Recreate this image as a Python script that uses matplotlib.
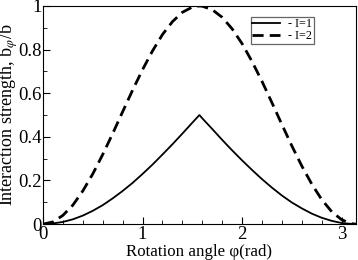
import matplotlib
matplotlib.use("Agg")
import matplotlib.pyplot as plt
from matplotlib.ticker import MultipleLocator

plt.rcParams['font.family'] = ['Liberation Serif', 'DejaVu Serif']
plt.rcParams['mathtext.fontset'] = 'stix'

# rotation angle (rad)
phi = [0.0, 0.1, 0.2, 0.3, 0.4, 0.5, 0.6, 0.7, 0.8, 0.9, 1.0, 1.1, 1.2, 1.3, 1.4, 1.5, 1.571,
       1.6, 1.7, 1.8, 1.9, 2.0, 2.1, 2.2, 2.3, 2.4, 2.5, 2.6, 2.7, 2.8, 2.9, 3.0, 3.1, 3.142]
# I=1 (solid)
b_i1 = [0.0, 0.003, 0.010, 0.022, 0.039, 0.061, 0.087, 0.118, 0.152, 0.189, 0.230, 0.273, 0.319,
        0.366, 0.415, 0.465, 0.500, 0.485, 0.436, 0.386, 0.338, 0.292, 0.248, 0.206, 0.167,
        0.131, 0.099, 0.072, 0.048, 0.029, 0.015, 0.005, 0.001, 0.0]
# I=2 (dashed)
b_i2 = [0.0, 0.010, 0.040, 0.087, 0.152, 0.230, 0.319, 0.415, 0.515, 0.614, 0.708, 0.794, 0.869,
        0.928, 0.971, 0.995, 1.000, 0.999, 0.983, 0.948, 0.895, 0.827, 0.745, 0.654, 0.556,
        0.456, 0.358, 0.266, 0.183, 0.112, 0.057, 0.020, 0.002, 0.0]

fig = plt.figure(figsize=(3.58, 2.6), dpi=100)
ax = fig.add_axes([0.12, 0.138, 0.874, 0.839])

ax.plot(phi, b_i1, color='black', lw=1.3, label='- I=1')
ax.plot(phi, b_i2, color='black', lw=2.0, dashes=(4, 2.2), label='- I=2')

ax.set_xlim(0, 3.142)
ax.set_ylim(0, 1)
ax.xaxis.set_major_locator(MultipleLocator(1))
ax.xaxis.set_minor_locator(MultipleLocator(0.2))
ax.yaxis.set_major_locator(MultipleLocator(0.2))
ax.yaxis.set_minor_locator(MultipleLocator(0.1))
ax.yaxis.set_major_formatter(plt.FuncFormatter(lambda v, p: '%g' % round(v, 2)))
ax.tick_params(which='both', direction='in', top=False, right=False, labelsize=13.5, pad=1)
ax.tick_params(which='major', length=5)
ax.tick_params(which='minor', length=3)

ax.set_xlabel('Rotation angle \u03c6(rad)', fontsize=12.2, labelpad=1)
ax.set_ylabel('Interaction strength, b$_{\\varphi}$/b', fontsize=13)
ax.yaxis.set_label_coords(-0.072, 0.5)

leg = ax.legend(loc='upper right', bbox_to_anchor=(0.866, 0.95), fontsize=8.7,
                fancybox=False, framealpha=1, edgecolor='#666666', handlelength=2.3,
                handletextpad=0.7, borderpad=0.12, labelspacing=0.0, borderaxespad=0)
leg.get_frame().set_linewidth(0.9)

fig.savefig('out.png', dpi=100)
